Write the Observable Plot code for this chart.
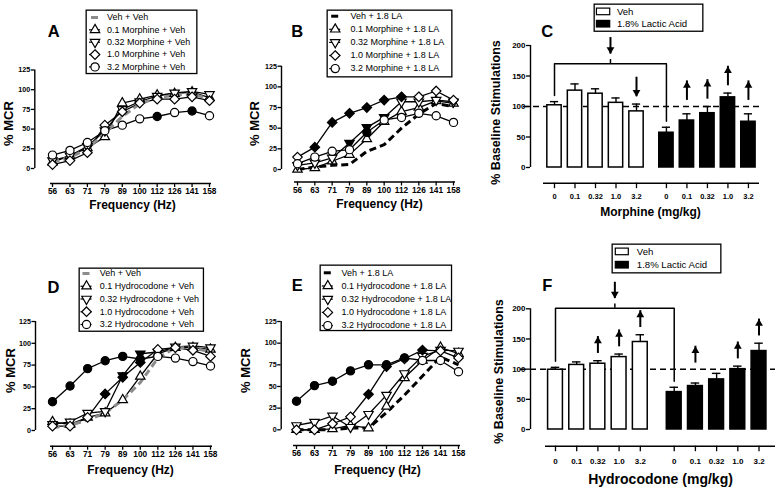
<!DOCTYPE html>
<html><head><meta charset="utf-8">
<script src="https://cdn.jsdelivr.net/npm/d3@7"></script>
<script src="https://cdn.jsdelivr.net/npm/@observablehq/plot@0.6"></script>
<style>
body{margin:0;background:#fff;}
#chart{position:relative;width:775px;height:490px;overflow:hidden;background:#fff;}
</style></head><body><div id="chart"></div>
<script>
// ---------- data ----------
const freqLabels = ["56","63","71","79","89","100","112","126","141","158"];
const doses = ["0","0.1","0.32","1.0","3.2"];

// Panel A: morphine + vehicle (% MCR)
const aNames = ["Veh + Veh","0.1 Morphine + Veh","0.32 Morphine + Veh","1.0 Morphine + Veh","3.2 Morphine + Veh"];
const aVehVeh = [8, 14, 25, 45, 66, 82, 90, 93, 95, 88];
const aMor01  = [8, 16, 26, 40, 83, 88, 93, 95, 97, 90];
const aMor032 = [10, 16, 28, 48, 75, 85, 92, 96, 98, 94];
const aMor10  = [5, 10, 20, 55, 72, 83, 88, 88, 91, 86];
const aMor32  = [17, 23, 33, 48, 55, 63, 66, 71, 73, 67];
const aMor01Sig  = [0,0,0,0,0,0,0,0,0,0];
const aMor032Sig = [0,0,0,0,0,0,0,0,0,0];
const aMor10Sig  = [0,0,0,0,0,0,0,0,0,0];
const aMor32Sig  = [0,0,0,0,0,0,1,0,1,0];

// Panel B: morphine + 1.8% lactic acid
const bNames = ["Veh + 1.8 LA","0.1 Morphine + 1.8 LA","0.32 Morphine + 1.8 LA","1.0 Morphine + 1.8 LA","3.2 Morphine + 1.8 LA"];
const bVehLA  = [0, 3, 5, 6, 22, 30, 50, 67, 80, 76];
const bMor01  = [0, 2, 10, 18, 37, 58, 70, 75, 83, 80];
const bMor032 = [5, 8, 14, 32, 51, 63, 82, 82, 84, 82];
const bMor10  = [15, 27, 57, 68, 75, 84, 88, 88, 95, 84];
const bMor32  = [7, 15, 22, 24, 45, 60, 63, 68, 65, 57];
const bMor01Sig  = [0,0,0,0,0,0,0,0,0,0];
const bMor032Sig = [0,0,0,1,1,1,0,0,0,0];
const bMor10Sig  = [0,1,1,1,1,1,1,0,0,0];
const bMor32Sig  = [0,0,0,0,1,0,0,0,0,0];

// Panel D: hydrocodone + vehicle
const dNames = ["Veh + Veh","0.1 Hydrocodone + Veh","0.32 Hydrocodone + Veh","1.0 Hydrocodone + Veh","3.2 Hydrocodone + Veh"];
const dVehVeh = [3, 6, 12, 20, 35, 55, 83, 95, 95, 90];
const dHyd01  = [10, 7, 15, 20, 35, 62, 88, 95, 95, 93];
const dHyd032 = [7, 10, 20, 22, 63, 88, 90, 96, 97, 95];
const dHyd10  = [5, 5, 15, 42, 61, 78, 93, 95, 92, 85];
const dHyd32  = [33, 51, 71, 80, 85, 82, 85, 83, 79, 74];
const dHyd01Sig  = [0,0,0,0,0,0,0,0,0,0];
const dHyd032Sig = [0,0,0,0,1,1,0,0,0,0];
const dHyd10Sig  = [0,0,0,1,1,1,0,0,0,0];
const dHyd32Sig  = [1,1,1,1,1,1,0,0,0,0];

// Panel E: hydrocodone + 1.8% lactic acid
const eNames = ["Veh + 1.8 LA","0.1 Hydrocodone + 1.8 LA","0.32 Hydrocodone + 1.8 LA","1.0 Hydrocodone + 1.8 LA","3.2 Hydrocodone + 1.8 LA"];
const eVehLA  = [0, 0, 0, 2, 2, 20, 40, 62, 84, 75];
const eHyd01  = [0, 0, 1, 5, 2, 27, 60, 80, 95, 88];
const eHyd032 = [5, 9, 16, 3, 18, 40, 65, 85, 92, 91];
const eHyd10  = [0, 0, 7, 15, 41, 73, 82, 92, 91, 83];
const eHyd32  = [33, 51, 56, 68, 75, 75, 83, 80, 80, 67];
const eHyd01Sig  = [0,0,0,0,0,0,0,0,0,0];
const eHyd032Sig = [0,0,0,0,0,0,0,0,0,0];
const eHyd10Sig  = [0,0,0,0,1,1,0,1,0,0];
const eHyd32Sig  = [1,1,1,1,1,1,1,0,0,0];

// Panel C: morphine, % baseline stimulations (mean, SEM)
const cVehMean = [102, 126, 121, 106, 92];
const cVehSem  = [6, 11, 8, 8, 12];
const cLAMean  = [57, 77, 89, 115, 75];
const cLASem   = [9, 11, 11, 7, 13];
const cVehArrow = [0, 0, 0, 0, -1];
const cLAArrow  = [0, 1, 1, 1, 1];
const cBracket = 170;

// Panel F: hydrocodone, % baseline stimulations (mean, SEM)
const fVehMean = [99, 107, 109, 120, 145];
const fVehSem  = [4, 5, 5, 5, 12];
const fLAMean  = [62, 72, 83, 100, 130];
const fLASem   = [8, 5, 10, 5, 13];
const fVehArrow = [0, 0, 1, 1, 1];
const fLAArrow  = [0, 1, 0, 1, 1];
const fBracket = 201;

const legendBars = ["Veh", "1.8% Lactic Acid"];

// ---------- helpers ----------
const W = 775, H = 490;
const FONT = "'Liberation Sans', Arial, Helvetica, sans-serif";
const chart = document.getElementById("chart");
const triangleDown = {draw(ctx, size) {
  const y = -Math.sqrt(size / (Math.sqrt(3) * 3));
  ctx.moveTo(0, -y * 2); ctx.lineTo(-Math.sqrt(3) * y, y); ctx.lineTo(Math.sqrt(3) * y, y); ctx.closePath();
}};
const KINDS = ["dash", "tri", "tridown", "diamond", "circle"];
const SYM = {tri: "triangle", tridown: triangleDown, diamond: "diamond2", circle: "circle"};
const RAD = {tri: 3.5, tridown: 3.5, diamond: 4.3, circle: 4.1};

function place(svg, left, top) {
  svg.style.position = "absolute"; svg.style.left = left + "px"; svg.style.top = top + "px";
  chart.appendChild(svg);
}
function frameFor(xv0, xp0, xv1, xp1, yv0, yp0, yv1, yp1) {
  const kx = (xp1 - xp0) / (xv1 - xv0), ky = (yp1 - yp0) / (yv1 - yv0);
  return {px: v => xp0 + (v - xv0) * kx, vx: p => xv0 + (p - xp0) / kx,
          py: v => yp0 + (v - yv0) * ky, vy: p => yv0 + (p - yp0) / ky};
}
function panel(f, xDomain, yDomain, marksFn) {
  const ml = f.px(xDomain[0]), mr = W - f.px(xDomain[1]);
  const mt = f.py(yDomain[1]), mb = H - f.py(yDomain[0]);
  const at = (txt, x, y, o = {}) => Plot.text([txt], {frameAnchor: "top-left", textAnchor: "middle", lineAnchor: "middle", dx: x - ml, dy: y - mt, ...o});
  const svg = Plot.plot({
    width: W, height: H, marginLeft: ml, marginRight: mr, marginTop: mt, marginBottom: mb,
    x: {type: "linear", domain: xDomain}, y: {type: "linear", domain: yDomain},
    color: {type: "identity"},
    style: {background: "transparent", fontFamily: FONT, fontWeight: "bold", color: "black", overflow: "visible"},
    marks: marksFn(at)
  });
  place(svg, 0, 0);
}

function linePanel({names, series, sigs, dashColor, g}) {
  const f = frameFor(0, g.x0, 9, g.x9, 0, g.y0, 125, g.y125);
  const xDomain = [f.vx(g.yAxisX), f.vx(g.xl1 + 2)];
  const yDomain = [f.vy(g.xAxisY), 125];
  const rows = series.flatMap((vals, s) => vals.map((v, i) => ({name: names[s], kind: KINDS[s], i, v, sig: s ? sigs[s - 1][i] : 0})));
  panel(f, xDomain, yDomain, at => [
    Plot.ruleX([xDomain[0]], {y1: 0, y2: 125, strokeWidth: 1.4}),
    Plot.axisY({ticks: [0, 25, 50, 75, 100, 125], tickSize: 3.5, tickPadding: 1, fontSize: 7.2, strokeWidth: 1.3, label: null}),
    Plot.ruleY([yDomain[0]], {x1: f.vx(g.xl0), x2: f.vx(g.xl1), strokeWidth: 1.4}),
    Plot.axisX({ticks: d3.range(10), tickFormat: i => freqLabels[i], tickSize: 4, tickPadding: 1, fontSize: 8.3, strokeWidth: 1.3, label: null}),
    Plot.line(rows.filter(d => d.kind !== "dash"), {x: "i", y: "v", z: "name", stroke: "black", strokeWidth: 1.3}),
    Plot.line(rows.filter(d => d.kind === "dash"), {x: "i", y: "v", stroke: dashColor, strokeWidth: 3, strokeDasharray: "7,4", strokeLinecap: "butt"}),
    ...["tri", "tridown", "diamond", "circle"].map(k => Plot.dot(rows.filter(d => d.kind === k),
      {x: "i", y: "v", symbol: SYM[k], r: RAD[k], stroke: "black", strokeWidth: 1.2, fill: d => d.sig ? "black" : "white"})),
    at(g.letter, g.letterXY[0], g.letterXY[1], {fontSize: 16.5}),
    at("% MCR", g.ylab[0], g.ylab[1], {rotate: -90, fontSize: 13}),
    at("Frequency (Hz)", g.xlab[0], g.xlab[1], {fontSize: 12})
  ]);
  // legend
  const [x0, y0, x1, y1] = g.box; const w = x1 - x0, h = y1 - y0;
  const items = names.map((n, i) => ({n, kind: KINDS[i], y: g.rowY0 - y0 + i * g.rowStep}));
  const sx = g.sx - x0;
  const leg = Plot.plot({
    width: w, height: h, margin: 0,
    x: {domain: [0, w], range: [0, w], axis: null}, y: {domain: [0, h], range: [0, h], axis: null},
    style: {background: "transparent", fontFamily: FONT, color: "black", overflow: "visible"},
    marks: [
      Plot.frame({fill: "white", stroke: "black", strokeWidth: 1.3, inset: 0.65}),
      Plot.ruleY(items.slice(0, 1), {y: "y", x1: sx - 3.5, x2: sx + 3.5, stroke: dashColor, strokeWidth: 3}),
      Plot.ruleY(items.slice(1), {y: "y", x1: sx - 5.5, x2: sx + 5.5, stroke: "black", strokeWidth: 1.2}),
      ...["tri", "tridown", "diamond", "circle"].map(k => Plot.dot(items.filter(d => d.kind === k),
        {x: sx, y: "y", symbol: SYM[k], r: RAD[k], stroke: "black", strokeWidth: 1.2, fill: "white"})),
      Plot.text(items, {x: g.tx - x0, y: "y", text: "n", textAnchor: "start", fontSize: 9})
    ]
  });
  place(leg, x0, y0);
}

function barPanel({vehMean, vehSem, laMean, laSem, vehArrow, laArrow, bracketY, g}) {
  const f = frameFor(0, g.pos0, 1, g.pos0 + g.step, 0, g.y0, 200, g.y200);
  const xDomain = [f.vx(g.yAxisX), f.vx(g.xl1)];
  const yDomain = [f.vy(g.xAxisY), 200];
  const rows = [
    ...vehMean.map((m, i) => ({fill: "white", dose: doses[i], pos: i, mean: m, top: m + vehSem[i], arrow: vehArrow[i]})),
    ...laMean.map((m, i) => ({fill: "black", dose: doses[i], pos: g.gap + i, mean: m, top: m + laSem[i], arrow: laArrow[i]}))
  ];
  const L = g.arrowLen, hd = 1.555 * 2.9;
  const arrows = rows.filter(d => d.arrow).map(d => ({...d, base: Math.max(d.top + 12, 110)}));
  const up = arrows.filter(d => d.arrow > 0), down = arrows.filter(d => d.arrow < 0);
  const mid = (rows[0].pos + rows[5].pos) / 2;
  const bracket = [
    {x: rows[0].pos, y: rows[0].top + 10}, {x: rows[0].pos, y: bracketY},
    {x: rows[5].pos, y: bracketY}, {x: rows[5].pos, y: rows[5].top + 10}
  ];
  panel(f, xDomain, yDomain, at => [
    Plot.ruleY([100], {x1: f.vx(g.dash0), x2: f.vx(g.dash1), strokeWidth: 1.5, strokeDasharray: "6,4"}),
    Plot.ruleX([xDomain[0]], {y1: 0, y2: 200, strokeWidth: 1.4}),
    Plot.axisY({ticks: [0, 50, 100, 150, 200], tickSize: 4, tickPadding: 1, fontSize: 8, strokeWidth: 1.3, label: null}),
    Plot.ruleY([yDomain[0]], {x1: f.vx(g.xl0), x2: f.vx(g.xl1), strokeWidth: 1.4}),
    Plot.axisX({ticks: rows.map(d => d.pos), tickFormat: p => rows.find(d => d.pos === p).dose, tickSize: 5.5, tickPadding: g.tickPad, fontSize: g.tickFont, strokeWidth: 1.3, label: null}),
    Plot.ruleX(rows, {x: "pos", y1: "mean", y2: "top", strokeWidth: 1.4}),
    Plot.ruleY(rows, {y: "top", x1: d => d.pos - 0.2, x2: d => d.pos + 0.2, strokeWidth: 1.4}),
    Plot.rect(rows, {x1: d => d.pos - 0.35, x2: d => d.pos + 0.35, y1: 0, y2: "mean", fill: "fill", stroke: "black", strokeWidth: 1.5}),
    Plot.ruleX(arrows, {x: "pos", y1: "base", y2: d => d.base + L, strokeWidth: 2}),
    Plot.dot(up, {x: "pos", y: d => d.base + L, symbol: "triangle", r: 2.9, fill: "black", dy: hd}),
    Plot.dot(down, {x: "pos", y: "base", symbol: triangleDown, r: 2.9, fill: "black", dy: -hd}),
    Plot.line(bracket, {x: "x", y: "y", strokeWidth: 1.5}),
    Plot.ruleX([mid], {y1: bracketY, y2: bracketY + 7, strokeWidth: 1.5}),
    Plot.ruleX([mid], {y1: bracketY + 16, y2: bracketY + 43, strokeWidth: 2}),
    Plot.dot([mid], {x: d => d, y: bracketY + 16, symbol: triangleDown, r: 2.9, fill: "black", dy: -hd}),
    at(g.letter, g.letterXY[0], g.letterXY[1], {fontSize: 16.5}),
    at("% Baseline Stimulations", g.ylab[0], g.ylab[1], {rotate: -90, fontSize: 12.5}),
    at(g.xTitle, g.xlab[0], g.xlab[1], {fontSize: g.xTitleFont})
  ]);
  // legend
  const [x0, y0, x1, y1] = g.box; const w = x1 - x0, h = y1 - y0;
  const items = legendBars.map((n, i) => ({n, fill: i ? "black" : "white", y: g.rowY0 - y0 + i * g.rowStep}));
  const leg = Plot.plot({
    width: w, height: h, margin: 0,
    x: {domain: [0, w], range: [0, w], axis: null}, y: {domain: [0, h], range: [0, h], axis: null}, color: {type: "identity"},
    style: {background: "transparent", fontFamily: FONT, color: "black", overflow: "visible"},
    marks: [
      Plot.frame({fill: "white", stroke: "black", strokeWidth: 1.3, inset: 0.65}),
      Plot.rect(items, {x1: g.sw0 - x0, x2: g.sw1 - x0, y1: d => d.y - 3.3, y2: d => d.y + 3.3, fill: "fill", stroke: "black", strokeWidth: 1.2}),
      Plot.text(items, {x: g.tx - x0, y: "y", text: "n", textAnchor: "start", fontSize: 9.6})
    ]
  });
  place(leg, x0, y0);
}

// ---------- panels ----------
linePanel({names: aNames, series: [aVehVeh, aMor01, aMor032, aMor10, aMor32], sigs: [aMor01Sig, aMor032Sig, aMor10Sig, aMor32Sig], dashColor: "#8c8c8c",
  g: {x0: 52, x9: 209, y0: 168, y125: 69.5, yAxisX: 34.3, xAxisY: 183, xl0: 50, xl1: 211,
      letter: "A", letterXY: [53.3, 31], ylab: [8, 123], xlab: [132, 205],
      box: [85, 9.3, 197, 74], rowY0: 17.3, rowStep: 12.35, sx: 94.5, tx: 106.5}});
linePanel({names: bNames, series: [bVehLA, bMor01, bMor032, bMor10, bMor32], sigs: [bMor01Sig, bMor032Sig, bMor10Sig, bMor32Sig], dashColor: "black",
  g: {x0: 297, x9: 453, y0: 169, y125: 65.7, yAxisX: 281, xAxisY: 181.5, xl0: 294, xl1: 455,
      letter: "B", letterXY: [296.7, 31], ylab: [254, 123], xlab: [379, 204],
      box: [326, 9.3, 452, 77.3], rowY0: 16, rowStep: 13.1, sx: 334.7, tx: 350}});
linePanel({names: dNames, series: [dVehVeh, dHyd01, dHyd032, dHyd10, dHyd32], sigs: [dHyd01Sig, dHyd032Sig, dHyd10Sig, dHyd32Sig], dashColor: "#8c8c8c",
  g: {x0: 52, x9: 210, y0: 430, y125: 321, yAxisX: 35, xAxisY: 445.7, xl0: 50, xl1: 212,
      letter: "D", letterXY: [53, 287.5], ylab: [10, 370], xlab: [130, 470],
      box: [77.7, 267.3, 203.3, 331.7], rowY0: 273.3, rowStep: 12.75, sx: 85.7, tx: 99}});
linePanel({names: eNames, series: [eVehLA, eHyd01, eHyd032, eHyd10, eHyd32], sigs: [eHyd01Sig, eHyd032Sig, eHyd10Sig, eHyd32Sig], dashColor: "black",
  g: {x0: 296, x9: 458, y0: 429.3, y125: 321, yAxisX: 280.7, xAxisY: 445, xl0: 293, xl1: 460,
      letter: "E", letterXY: [296.7, 285], ylab: [245, 370], xlab: [377, 470],
      box: [319, 264, 451.7, 330.7], rowY0: 272.3, rowStep: 13.2, sx: 327.3, tx: 341}});

barPanel({vehMean: cVehMean, vehSem: cVehSem, laMean: cLAMean, laSem: cLASem, vehArrow: cVehArrow, laArrow: cLAArrow, bracketY: cBracket,
  g: {pos0: 554, step: 20.5, gap: 5.46, y0: 167, y200: 45, yAxisX: 530, xAxisY: 182.7, xl0: 543, xl1: 759, dash0: 523, dash1: 760,
      arrowLen: 32, tickPad: 5, tickFont: 7.5, letter: "C", letterXY: [546.7, 31], ylab: [495, 112],
      xTitle: "Morphine (mg/kg)", xTitleFont: 12, xlab: [650, 211.7],
      box: [593.3, 3.3, 703.3, 31.7], rowY0: 11.7, rowStep: 12.3, sw0: 596.7, sw1: 610, tx: 616.7}});
barPanel({vehMean: fVehMean, vehSem: fVehSem, laMean: fLAMean, laSem: fLASem, vehArrow: fVehArrow, laArrow: fLAArrow, bracketY: fBracket,
  g: {pos0: 555, step: 21.2, gap: 5.6, y0: 429, y200: 308.3, yAxisX: 530, xAxisY: 445.7, xl0: 545, xl1: 775, dash0: 520, dash1: 775,
      arrowLen: 28, tickPad: 7, tickFont: 8, letter: "F", letterXY: [546.7, 285], ylab: [498, 371],
      xTitle: "Hydrocodone (mg/kg)", xTitleFont: 14, xlab: [660, 479],
      box: [610.7, 243.3, 720.7, 273.3], rowY0: 251.7, rowStep: 13.3, sw0: 615, sw1: 628, tx: 636}});
</script></body></html>
